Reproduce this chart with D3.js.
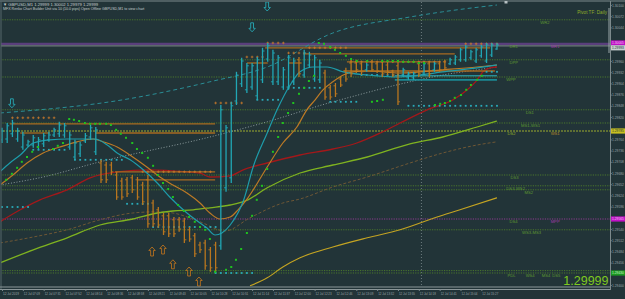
<!DOCTYPE html>
<html><head><meta charset="utf-8">
<script src="https://cdnjs.cloudflare.com/ajax/libs/d3/7.8.5/d3.min.js"></script>
<style>html,body{margin:0;padding:0;background:#223438;overflow:hidden}svg{display:block}</style>
</head><body><svg id="c" width="625" height="299"></svg>
<script>
// ---------------- DATA ----------------
const priceTicks = [1.30100,1.30072,1.30044,1.30016,1.29988,1.29960,1.29932,1.29904,1.29876,1.29848,1.29820,1.29792,1.29764,1.29736,1.29708,1.29680,1.29652,1.29624,1.29596,1.29568,1.29540,1.29512,1.29484,1.29456,1.29428,1.29400];
const timeIdx = [0,4,8,12,16,20,24,28,32,36,40,44,48,52,56,60,64,68,72,76,80,84,88,92];
const timeLabels = ["12 Jul 2019","12 Jul 07:09","12 Jul 07:31","12 Jul 07:52","12 Jul 08:14","12 Jul 08:36","12 Jul 08:58","12 Jul 09:21","12 Jul 09:43","12 Jul 10:05","12 Jul 10:28","12 Jul 10:51","12 Jul 11:14","12 Jul 11:37","12 Jul 12:00","12 Jul 12:23","12 Jul 12:46","12 Jul 13:09","12 Jul 13:32","12 Jul 13:55","12 Jul 14:18","12 Jul 14:41","12 Jul 15:04","12 Jul 15:27"];
// OHLC bars [open, high, low, close]
const bars = [
[1.29763,1.29793,1.29755,1.29785],[1.29765,1.29805,1.29755,1.29798],[1.29778,1.29813,1.29770,1.29805],[1.29765,1.29793,1.29758,1.29785],
[1.29745,1.29783,1.29738,1.29775],[1.29750,1.29763,1.29745,1.29758],[1.29750,1.29775,1.29743,1.29768],[1.29745,1.29770,1.29738,1.29763],
[1.29753,1.29780,1.29745,1.29773],[1.29763,1.29783,1.29758,1.29775],[1.29775,1.29793,1.29770,1.29788],[1.29778,1.29808,1.29770,1.29800],
[1.29775,1.29805,1.29768,1.29798],[1.29745,1.29783,1.29738,1.29775],[1.29720,1.29763,1.29713,1.29755],[1.29728,1.29758,1.29720,1.29750],
[1.29760,1.29780,1.29755,1.29773],[1.29770,1.29800,1.29763,1.29793],[1.29733,1.29795,1.29725,1.29788],[1.29705,1.29713,1.29655,1.29663],
[1.29700,1.29708,1.29655,1.29663],[1.29700,1.29708,1.29675,1.29683],[1.29675,1.29683,1.29613,1.29620],[1.29660,1.29668,1.29613,1.29620],
[1.29663,1.29670,1.29620,1.29628],[1.29668,1.29675,1.29630,1.29638],[1.29663,1.29670,1.29613,1.29620],[1.29650,1.29658,1.29600,1.29608],
[1.29663,1.29675,1.29543,1.29553],[1.29605,1.29613,1.29545,1.29553],[1.29588,1.29595,1.29543,1.29550],[1.29573,1.29580,1.29525,1.29533],
[1.29573,1.29580,1.29520,1.29528],[1.29563,1.29570,1.29520,1.29528],[1.29563,1.29570,1.29533,1.29540],[1.29560,1.29568,1.29505,1.29513],
[1.29538,1.29545,1.29508,1.29515],[1.29523,1.29530,1.29470,1.29478],[1.29500,1.29508,1.29480,1.29488],[1.29505,1.29513,1.29438,1.29448],
[1.29488,1.29495,1.29433,1.29443],[1.29500,1.29508,1.29433,1.29443],[1.29498,1.29850,1.29488,1.29838],[1.29643,1.29800,1.29633,1.29793],
[1.29668,1.29858,1.29655,1.29848],[1.29860,1.29933,1.29850,1.29925],[1.29903,1.29968,1.29895,1.29960],[1.29888,1.29955,1.29880,1.29948],
[1.29895,1.29955,1.29888,1.29948],[1.29873,1.29970,1.29863,1.29963],[1.29913,1.29993,1.29905,1.29985],[1.29965,1.30005,1.29958,1.29998],
[1.29908,1.29988,1.29900,1.29980],[1.29908,1.29975,1.29900,1.29968],[1.29895,1.29945,1.29888,1.29938],[1.29895,1.29975,1.29888,1.29968],
[1.29908,1.29968,1.29900,1.29960],[1.29963,1.29970,1.29920,1.29928],[1.29925,1.29988,1.29918,1.29980],[1.29950,1.29983,1.29943,1.29975],
[1.29915,1.29975,1.29908,1.29968],[1.29913,1.29963,1.29905,1.29955],[1.29930,1.29938,1.29863,1.29870],[1.29893,1.29900,1.29863,1.29870],
[1.29898,1.29905,1.29870,1.29878],[1.29915,1.29920,1.29895,1.29900],[1.29935,1.29943,1.29908,1.29915],[1.29955,1.29963,1.29920,1.29928],
[1.29955,1.29963,1.29930,1.29938],[1.29953,1.29958,1.29925,1.29933],[1.29938,1.29955,1.29933,1.29950],[1.29958,1.29963,1.29933,1.29938],
[1.29953,1.29958,1.29930,1.29935],[1.29958,1.29963,1.29920,1.29928],[1.29950,1.29955,1.29925,1.29933],[1.29935,1.29938,1.29920,1.29925],
[1.29948,1.29955,1.29850,1.29858],[1.29925,1.29943,1.29920,1.29938],[1.29918,1.29933,1.29913,1.29928],[1.29918,1.29933,1.29913,1.29928],
[1.29953,1.29958,1.29920,1.29928],[1.29930,1.29958,1.29925,1.29953],[1.29953,1.29958,1.29920,1.29928],[1.29938,1.29958,1.29933,1.29953],
[1.29953,1.29958,1.29933,1.29938],[1.29958,1.29963,1.29938,1.29943],[1.29953,1.29968,1.29950,1.29963],[1.29955,1.29975,1.29950,1.29970],
[1.29963,1.29993,1.29958,1.29988],[1.29963,1.30000,1.29958,1.29995],[1.29968,1.29988,1.29963,1.29983],[1.29960,1.29993,1.29955,1.29988],
[1.29973,1.30000,1.29968,1.29995],[1.29960,1.30005,1.29955,1.30000],[1.29975,1.30005,1.29970,1.30000],[1.29990,1.30005,1.29988,1.30000]
];
// moving averages [barIndex, price]
const maCyan = [[-0.4,1.29683],[1.5,1.29705],[3.5,1.29725],[6.0,1.29755],[9.2,1.29763],[12.5,1.29765],[15.5,1.29765],[17.9,1.29765],[20.2,1.29750],[22.1,1.29730],[24.6,1.29713],[27.1,1.29688],[29.8,1.29655],[32.2,1.29620],[35.5,1.29580],[38.0,1.29555],[39.3,1.29543],[40.9,1.29525],[42.2,1.29530],[43.8,1.29550],[46.4,1.29613],[48.2,1.29695],[50.9,1.29780],[52.8,1.29838],[55.3,1.29900],[57.2,1.29933],[59.7,1.29945],[62.4,1.29945],[65.5,1.29933],[70.1,1.29925],[76.4,1.29920],[84.6,1.29933],[91.2,1.29943],[95.0,1.29950]];
const maOrange = [[-0.4,1.29650],[2.1,1.29675],[4.8,1.29705],[7.9,1.29730],[11.1,1.29745],[14.4,1.29758],[17.5,1.29765],[19.4,1.29758],[22.1,1.29745],[25.1,1.29720],[27.8,1.29695],[30.3,1.29670],[32.8,1.29650],[35.5,1.29630],[38.0,1.29605],[39.9,1.29580],[41.8,1.29565],[43.8,1.29570],[45.3,1.29588],[47.2,1.29618],[50.9,1.29695],[53.9,1.29755],[56.6,1.29795],[58.5,1.29838],[60.1,1.29863],[61.6,1.29888],[63.5,1.29908],[65.5,1.29925],[67.4,1.29933],[70.1,1.29935],[76.4,1.29930],[84.6,1.29938],[91.2,1.29945],[95.0,1.29950]];
const maRed = [[-0.4,1.29558],[3.5,1.29588],[7.3,1.29613],[12.5,1.29638],[16.9,1.29668],[22.1,1.29683],[28.4,1.29688],[35.5,1.29683],[38.0,1.29680],[39.9,1.29670],[43.8,1.29673],[46.3,1.29688],[50.9,1.29705],[57.2,1.29725],[63.5,1.29740],[68.1,1.29755],[72.6,1.29780],[76.4,1.29805],[81.6,1.29838],[86.6,1.29863],[89.3,1.29888],[91.2,1.29913],[92.3,1.29933],[93.7,1.29943],[95.0,1.29945]];
const maLime = [[-0.4,1.29455],[6.0,1.29488],[12.5,1.29518],[18.8,1.29550],[25.1,1.29565],[29.8,1.29580],[32.8,1.29585],[36.7,1.29588],[39.9,1.29593],[43.8,1.29600],[47.2,1.29613],[50.9,1.29643],[57.2,1.29680],[63.5,1.29700],[70.1,1.29720],[78.3,1.29753],[84.6,1.29770],[91.2,1.29795],[95.0,1.29810]];
const maGold = [[47.6,1.29398],[50.9,1.29418],[53.9,1.29445],[57.2,1.29468],[63.5,1.29495],[70.1,1.29518],[76.4,1.29538],[83.5,1.29570],[87.9,1.29588],[95.0,1.29618]];
const maBrown = [[-0.4,1.29505],[6.0,1.29520],[12.5,1.29538],[18.8,1.29563],[25.1,1.29580],[29.8,1.29583],[32.8,1.29580],[38.0,1.29558],[42.8,1.29535],[47.6,1.29568],[53.9,1.29605],[57.2,1.29615],[63.5,1.29645],[70.1,1.29670],[78.3,1.29705],[84.6,1.29730],[91.2,1.29750],[95.0,1.29758]];
const maGrey = [[-0.4,1.29650],[7.9,1.29670],[18.8,1.29708],[39.9,1.29770],[50.9,1.29808],[63.5,1.29858],[65.5,1.29865],[78.3,1.29908],[84.6,1.29925],[91.2,1.29938],[95.0,1.29945]];
const bandCyan = [[-0.4,1.29830],[23.2,1.29863],[39.9,1.29908],[50.9,1.29945],[63.5,1.30030],[78.3,1.30070],[84.6,1.30083],[95.0,1.30100]];
// parabolic SAR dots [barIndex, price]
const sarDots = [[0.8,1.29663],[1.9,1.29678],[2.9,1.29693],[3.8,1.29708],[4.8,1.29720],[5.8,1.29733],[6.9,1.29745],[9.8,1.29740],[10.7,1.29748],[11.7,1.29755],
[12.9,1.29815],[13.8,1.29813],[14.8,1.29810],[15.9,1.29805],[16.9,1.29803],[17.9,1.29803],[18.8,1.29803],[20,1.29803],[20.9,1.29800],[21.9,1.29788],[22.8,1.29778],[23.8,1.29768],[25,1.29755],[25.9,1.29740],[26.9,1.29730],[28,1.29718],[29,1.29698],[29.9,1.29675],[30.9,1.29655],[31.9,1.29640],[32.8,1.29620],[33.8,1.29600],[34.9,1.29585],[35.9,1.29570],[37,1.29558],[38,1.29545],[39,1.29538],[39.9,1.29515],
[40.9,1.29433],[43,1.29438],[44,1.29445],[44.9,1.29463],[45.9,1.29490],[47,1.29530],[48,1.29573],[48.9,1.29613],[49.9,1.29648],[50.9,1.29690],[52,1.29733],[53,1.29770],[53.9,1.29805],[54.9,1.29830],[55.9,1.29855],[57,1.29878],[58,1.29893],[58.9,1.29910],[59.9,1.29923],
[60.8,1.30005],[61.8,1.30003],[63,1.29995],[63.9,1.29988],[64.9,1.29980],[66,1.29973],[67,1.29965],[68.1,1.29960],[70.1,1.29960],[73,1.29960],[74,1.29960],[75,1.29960],[76,1.29960],[77,1.29958],[78,1.29958],[79,1.29958],[80,1.29955],[81,1.29955],
[71,1.29858],[72,1.29860],[73.1,1.29863],
[83.1,1.29850],[84.1,1.29853],[85,1.29855],[86,1.29860],[86.9,1.29868],[88.1,1.29875],[89.1,1.29888],[90,1.29900],[91.2,1.29913],[92.1,1.29923]];
// dotted marker rows [fromIdx, toIdx, price]
const cyanRows = [[49,53,1.29863],[55,61,1.29893],[63,68,1.29858],[69,78,1.29925],[78,95,1.29848],[93,95,1.29933],[6,12,1.29738],[14,23,1.29713],[0,5,1.29595],[24,28,1.29603],[29,41,1.29545],[41,48,1.29430]];
const crossRows = [[2,10,1.29818],[41,46,1.29855],[51,54,1.30005],[47,50,1.29970],[55,58,1.29980],[59,66,1.29993],[67,85,1.29958],[89,95,1.30003],[27,40,1.29683]];
// support/resistance segments [fromIdx, toIdx, price]
const orangeLevels = [[1.5,40.9,1.29803],[3.5,9.2,1.29780],[17.9,40.9,1.29780],[21.7,40.9,1.29683],[25.9,40.9,1.29663],[50.5,93.7,1.29993],[57.8,86.9,1.29978],[66.2,84.1,1.29958],[65.5,94.6,1.29935],[47,51,1.29955],[55,57.5,1.29955]];
const tealLevels = [[75.4,95,1.29923],[75.4,95,1.29913]];
// pivot lines
const pivotPrices = [1.30063,1.30003,1.29963,1.29920,1.29838,1.29805,1.29785,1.29675,1.29648,1.29638,1.29565,1.29538,1.29436,1.29430];
const pivotKinds  = ["g","p","g","g","g","g","y","g","g","g","m","g","g","g"];
const labelText  = ["WR2","DR1","MR1","DPP","WPP","DS1","MS1-WS1","DS2","WS1","DS3","DS3-WS2","MS2","DS4","MPP","WS3-MS3","PDL","WS4","MS4","DS5"];
const labelPrice = [1.30063,1.30003,1.30003,1.29963,1.29920,1.29838,1.29805,1.29785,1.29785,1.29675,1.29648,1.29638,1.29565,1.29565,1.29538,1.29430,1.29430,1.29430,1.29430];
const labelIdx   = [103.3,97.4,105.3,97.4,96.8,100.5,99.6,97,105.3,97.6,96.8,100.3,97.4,105.3,99.8,97,100.5,103.6,105.6];
const labelKind  = ["g","g","m","g","g","g","g","y","o","g","g","g","g","m","g","g","g","g","g"];
// arrows [barIndex, price of tip]
const downArrows = [[1.9,1.29843],[48,1.30033],[50.9,1.30085]];
const upArrows = [[28.8,1.29495],[30.9,1.29500],[32.8,1.29463],[35.9,1.29445],[37.8,1.29420]];
// axis price markers [price, kind]
const axisMarks = [[1.30005,"m"],[1.29993,"w"],[1.29785,"y"],[1.29565,"m"],[1.29430,"g"]];
const bidPrice = 1.29999;
const headerLines = ["\u25BC GBPUSD,M1  1.29999 1.30002 1.29979 1.29999","MFX Renko Chart Builder Unit via 10 (10.0 pips) Open Offline GBPUSD,M1 to view chart"];

// ---------------- DRAW ----------------
const W=625,H=299, plotR=610, plotB=287;
const svg=d3.select("#c");
const x=d3.scaleLinear().domain([0,117]).range([2,611.6]);
const y=d3.scaleLinear().domain([1.29400,1.30100]).range([285,5]);
const FONT="'Liberation Sans',Arial,sans-serif";

svg.append("rect").attr("width",W).attr("height",H).attr("fill","#223438");
svg.append("defs").append("clipPath").attr("id","clip").append("rect").attr("x",1).attr("y",2).attr("width",plotR-1).attr("height",plotB-2);
const g=svg.append("g").attr("clip-path","url(#clip)");

// vertical dotted separator
g.append("line").attr("x1",x(80.5)).attr("x2",x(80.5)).attr("y1",2).attr("y2",plotB).attr("stroke","#7f8e90").attr("stroke-width",0.8).attr("stroke-dasharray","1,2");

// pivot lines
const pivotColor={g:"#4a772c",p:"#5a3f7c",y:"#9bab2e",m:"#8d3a8f"};
pivotPrices.forEach((p,k)=>{
  const kd=pivotKinds[k];
  g.append("line").attr("x1",0).attr("x2",plotR).attr("y1",y(p)).attr("y2",y(p))
   .attr("stroke",pivotColor[kd]).attr("stroke-width",kd==="p"?2.2:1)
   .attr("stroke-dasharray",kd==="p"?null:(kd==="y"?"2,1":"1.2,1.2"));
});
// bid line
g.append("line").attr("x1",0).attr("x2",plotR).attr("y1",y(bidPrice)+0.5).attr("y2",y(bidPrice)+0.5).attr("stroke","#8d9799").attr("stroke-width",0.9);

// pivot labels
const labelColor={g:"#5f9a30",m:"#a03aa8",y:"#8fae2a",o:"#b88a2a"};
labelText.forEach((t,k)=>{
  g.append("text").attr("x",x(labelIdx[k])).attr("y",y(labelPrice[k])+4.2).text(t)
   .attr("font-family",FONT).attr("font-size",4.2).attr("fill",labelColor[labelKind[k]]);
});
svg.append("text").attr("x",607).attr("y",14).attr("text-anchor","end").text("Pivot TF: Daily")
   .attr("font-family",FONT).attr("font-size",4.6).attr("fill","#8fae2a");

// moving averages
const line=d3.line().x(d=>x(d[0])).y(d=>y(d[1])).curve(d3.curveMonotoneX);
function ma(data,color,w,dash){g.append("path").datum(data).attr("d",line).attr("fill","none").attr("stroke",color).attr("stroke-width",w).attr("stroke-dasharray",dash||null);}
ma(bandCyan,"#2a8e96",1,"4,3");
ma(maGrey,"#8a9a9c",1,"1,1.8");
ma(maBrown,"#6e5735",1,"3,2");
ma(maGold,"#c4a422",1.1);
ma(maLime,"#7fb320",1.3);
ma(maRed,"#a3181a",1.3);

// levels
orangeLevels.forEach(d=>g.append("line").attr("x1",x(d[0])).attr("x2",x(d[1])).attr("y1",y(d[2])).attr("y2",y(d[2])).attr("stroke","#a86a20").attr("stroke-width",1.3));
tealLevels.forEach((d,k)=>g.append("line").attr("x1",x(d[0])).attr("x2",x(d[1])).attr("y1",y(d[2])).attr("y2",y(d[2])).attr("stroke",k?"#1b8a94":"#2bb4c0").attr("stroke-width",k?1.8:1));

// cyan dot rows
cyanRows.forEach(d=>{d3.range(d[0],d[1]+1).forEach(i=>g.append("rect").attr("x",x(i)-0.9).attr("y",y(d[2])-0.9).attr("width",1.8).attr("height",1.8).attr("fill","#2aaab8"));});
// orange cross rows
crossRows.forEach(d=>{d3.range(d[0],d[1]+1).forEach(i=>{
  g.append("path").attr("d",`M${x(i)-1.3},${y(d[2])}h2.6M${x(i)},${y(d[2])-1.3}v2.6`).attr("stroke","#c8782c").attr("stroke-width",0.8);});});

ma(maOrange,"#bd7a25",1.2);
ma(maCyan,"#1e9caa",1.2);

// bars
bars.forEach((b,i)=>{
  const up=b[3]>=b[0], col=up?"#21a7b5":"#b9761f", cx=x(i);
  g.append("line").attr("x1",cx).attr("x2",cx).attr("y1",y(b[1])).attr("y2",y(b[2])).attr("stroke",col).attr("stroke-width",1.3);
  g.append("line").attr("x1",cx-2).attr("x2",cx).attr("y1",y(b[0])).attr("y2",y(b[0])).attr("stroke",col).attr("stroke-width",0.9);
  g.append("line").attr("x1",cx).attr("x2",cx+2).attr("y1",y(b[3])).attr("y2",y(b[3])).attr("stroke",col).attr("stroke-width",0.9);
});

// SAR
sarDots.forEach(d=>g.append("rect").attr("x",x(d[0])-1).attr("y",y(d[1])-1).attr("width",2).attr("height",2).attr("fill","#1fc21f"));

// arrows
downArrows.forEach(d=>{const cx=x(d[0]),ty=y(d[1]);
  g.append("path").attr("d",`M${cx},${ty} L${cx-3.2},${ty-3.5} L${cx-1.4},${ty-3.5} L${cx-1.4},${ty-9} L${cx+1.4},${ty-9} L${cx+1.4},${ty-3.5} L${cx+3.2},${ty-3.5} Z`)
   .attr("fill","none").attr("stroke","#27a9b6").attr("stroke-width",0.9);});
upArrows.forEach(d=>{const cx=x(d[0]),ty=y(d[1]);
  g.append("path").attr("d",`M${cx},${ty} L${cx-3.2},${ty+3.5} L${cx-1.4},${ty+3.5} L${cx-1.4},${ty+9} L${cx+1.4},${ty+9} L${cx+1.4},${ty+3.5} L${cx+3.2},${ty+3.5} Z`)
   .attr("fill","none").attr("stroke","#b8701e").attr("stroke-width",0.9);});

// frame
svg.append("line").attr("x1",0).attr("x2",W).attr("y1",1).attr("y2",1).attr("stroke","#7d8a8c").attr("stroke-width",1);
svg.append("line").attr("x1",1).attr("x2",1).attr("y1",1).attr("y2",plotB+2).attr("stroke","#55666a").attr("stroke-width",1);
svg.append("line").attr("x1",0).attr("x2",plotR).attr("y1",plotB).attr("y2",plotB).attr("stroke","#8a9698").attr("stroke-width",1);
svg.append("line").attr("x1",0).attr("x2",plotR).attr("y1",plotB+2.5).attr("y2",plotB+2.5).attr("stroke","#8a9698").attr("stroke-width",1);
svg.append("line").attr("x1",plotR+0.5).attr("x2",plotR+0.5).attr("y1",1).attr("y2",plotB+3).attr("stroke","#7d8a8c").attr("stroke-width",1);
svg.append("line").attr("x1",plotR-1).attr("x2",plotR-1).attr("y1",8).attr("y2",53).attr("stroke","#9aa6a8").attr("stroke-width",1);
svg.append("rect").attr("x",504.5).attr("y",1).attr("width",3).attr("height",2.5).attr("fill","#b6c0c2");

// right price axis (tick labels hidden where a price marker covers them)
const AX=3.25;
const shownTicks=priceTicks.filter(t=>!axisMarks.some(m=>Math.abs(y(m[0])-y(t))<5.4));
const ya=svg.append("g").attr("transform",`translate(${plotR+0.5},0)`).call(d3.axisRight(y).tickValues(shownTicks).tickFormat(d3.format(".5f")).tickSize(1.2));
ya.select(".domain").remove();
ya.selectAll("line").attr("stroke","#7d8a8c");
ya.selectAll("text").attr("font-family",FONT).attr("font-size",AX).attr("fill","#9aa6a8").attr("x",1.6);
const markFill={m:"#c011c6",w:"#c9cfd0",y:"#c9c021",g:"#1c9a22"};
const markText={m:"#f0c8f0",w:"#223438",y:"#223438",g:"#c8f0c8"};
axisMarks.forEach(d=>{
  svg.append("rect").attr("x",plotR+1).attr("y",y(d[0])-2.6).attr("width",W-plotR-1).attr("height",5.2).attr("fill",markFill[d[1]]);
  svg.append("text").attr("x",plotR+2.1).attr("y",y(d[0])+1.2).text(d3.format(".5f")(d[0])).attr("font-family",FONT).attr("font-size",AX)
    .attr("fill",markText[d[1]]);
});

// bottom time axis
const xa=svg.append("g").attr("transform",`translate(0,${plotB+2.5})`).call(d3.axisBottom(x).tickValues(timeIdx).tickFormat((d,k)=>timeLabels[k]).tickSize(1.5));
xa.select(".domain").remove();
xa.selectAll("line").attr("stroke","#7d8a8c");
xa.selectAll("text").attr("font-family",FONT).attr("font-size",4.2).attr("fill","#9aa6a8").attr("text-anchor","start").attr("dx",0.5).attr("y",3)
  .attr("textLength",16).attr("lengthAdjust","spacingAndGlyphs");

// header
headerLines.forEach((t,k)=>svg.append("text").attr("x",3).attr("y",6+k*3.6).text(t).attr("font-family",FONT).attr("font-size",k?3.6:4.2).attr("fill","#c4cccd"));

// big price
svg.append("text").attr("x",608.5).attr("y",284.5).attr("text-anchor","end").text(d3.format(".5f")(bidPrice))
  .attr("font-family",FONT).attr("font-size",12.5).attr("fill","#7fc81f");
</script></body></html>
